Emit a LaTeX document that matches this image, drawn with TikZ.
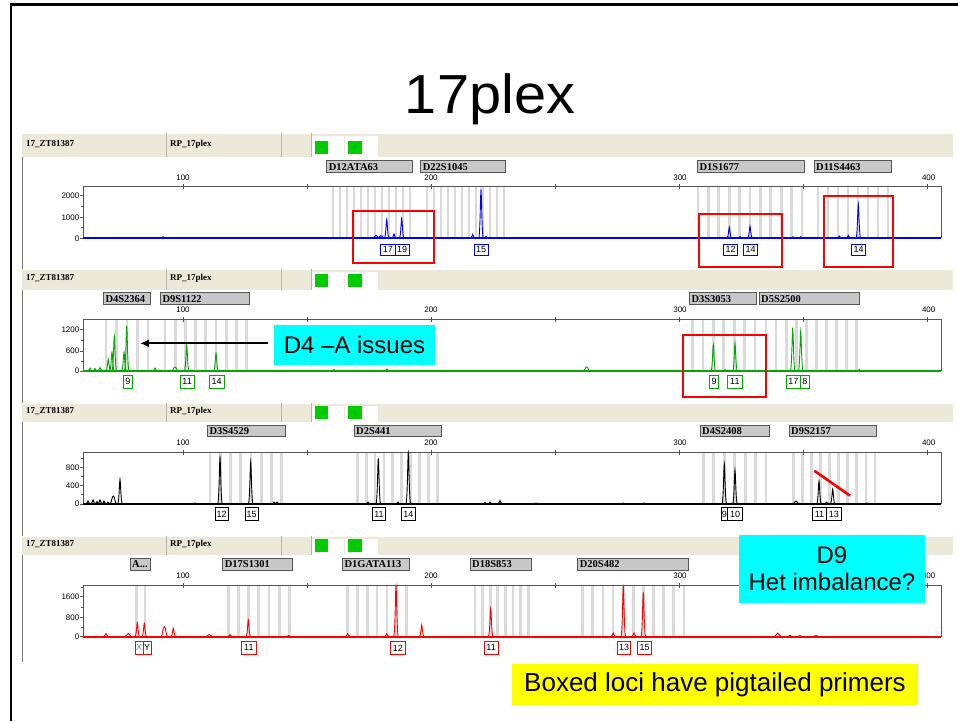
\documentclass[tikz,border=0pt]{standalone}
\usepackage{fontspec}
\setmainfont{Liberation Sans}
\newfontfamily\tms{Liberation Serif}
\usetikzlibrary{arrows.meta,calc}
\definecolor{beige}{HTML}{ECE9D8}
\definecolor{bingray}{HTML}{DADADA}
\definecolor{locgray}{HTML}{C8C8C8}
\definecolor{sqgreen}{HTML}{00CC00}
\definecolor{tblue}{HTML}{0000FF}
\definecolor{tgreen}{HTML}{00A800}
\definecolor{tred}{HTML}{FF0000}
\definecolor{framegray}{HTML}{7A7A7A}
\definecolor{cellgray}{HTML}{B8B4A4}
\definecolor{boxgray}{HTML}{555555}
\definecolor{calloutcyan}{HTML}{00FFFF}
\definecolor{noteyellow}{HTML}{FFFF00}
\definecolor{redmark}{HTML}{FF0000}
\newcommand\fs[1]{\fontsize{#1}{#1}\selectfont}
\tikzset{
  every node/.style={inner sep=0pt},
  hdr/.style={font=\tms\bfseries\fs{9}},
  loctext/.style={font=\tms\bfseries\fs{10.5}},
  locbox/.style={fill=locgray, draw=boxgray, line width=0.9},
  axlab/.style={font=\fs{8}},
  boxline/.style={draw=boxgray, line width=0.9},
  cellline/.style={draw=cellgray, line width=0.8},
  redbox/.style={draw=redmark, line width=2.3},
  callout/.style={fill=calloutcyan, font=\fs{24}, align=center},
  trace/.style={draw=black, line width=0.9},
  allele/.style={draw=black, fill=white, font=\fs{9}, line width=0.8},
}
% bins: x1 x2 n top base
\newcommand\bins[5]{\foreach \i in {1,...,#3}{\pgfmathsetmacro\bx{#1+(\i-1)*(#2-#1)/(#3-1)}\fill[bingray] (\bx-1.4,#4+0.6) rectangle (\bx+1.4,#5);}}
% peak: x base top
\newcommand\pk[3]{\draw[trace] ({#1-2.4},#2) .. controls ({#1-0.9},#2) and ({#1-0.5},#3) .. (#1,#3) .. controls ({#1+0.5},#3) and ({#1+0.9},#2) .. ({#1+2.4},#2);}
\newcommand\bump[3]{\draw[trace] ({#1-3.5},#2) .. controls ({#1-1.6},#2) and ({#1-1.6},#3) .. (#1,#3) .. controls ({#1+1.6},#3) and ({#1+1.6},#2) .. ({#1+3.5},#2);}
% frame: prefix htop hbot axy ptop base
\newcommand\panelframe[6]{%
  \fill[beige] (22,#2) rectangle (953,#3);
  \draw[white, line width=1] (22,#2+0.5) -- (953,#2+0.5);
  \draw[cellline] (166,#2) -- (166,#3) (281,#2) -- (281,#3) (311,#2) -- (311,#3);
  \fill[white] (311.5,#2+3) rectangle (344,#3);
  \fill[white] (345,#2+3) rectangle (377.5,#3);
  \fill[sqgreen] (315,#3-3) rectangle (328.3,#3-16.3);
  \fill[sqgreen] (348.3,#3-3) rectangle (361.6,#3-16.3);
  \node[hdr, anchor=west] (#1-sample) at (26,{(#2+#3)/2-1}) {17\_ZT81387};
  \node[hdr, anchor=west] (#1-kit) at (170,{(#2+#3)/2-1}) {RP\_17plex};
  \node[axlab] (#1-x100) at (183,#4) {100};
  \node[axlab] (#1-x200) at (431,#4) {200};
  \node[axlab] (#1-x300) at (680,#4) {300};
  \node[axlab] (#1-x400) at (928.7,#4) {400};
}
\newcommand\plotbox[2]{%
  \draw[boxline] (83.3,#2) -- (83.3,#1) -- (941,#1) -- (941,#2);
  \foreach \t in {183,307,431,555,679,803,927} \draw[boxline] (\t,#1-2.7) -- (\t,#1+2.7);
}
\newcommand\ytick[3]{\draw[boxline] (80,#2) -- (83.3,#2); \node[axlab, anchor=east] (#1) at (79.5,#2) {#3};}
\newcommand\yminor[1]{\draw[boxline] (80.8,#1) -- (83.3,#1);}
\newcommand\locus[6]{\draw[locbox] (#2,#4) rectangle (#3,#5); \node[loctext, anchor=west] (#1) at ({#2+2},{(#4+#5)/2+0.3}) {#6};}
\newcommand\alab[6]{\node[allele, minimum width={#3-#2}, minimum height={#5-#4}] (#1) at ({(#2+#3)/2},{(#4+#5)/2}) {#6};}
\begin{document}
\begin{tikzpicture}[x=1pt,y=-1pt]
\useasboundingbox (0,0) rectangle (958,721);
\fill[white] (0,0) rectangle (958,721);
% slide frame
\draw[black, line width=2.4] (11.2,721) -- (11.2,4.5) -- (958,4.5);
\node[font=\fs{55}, anchor=base, xscale=1.05] (title) at (490,113) {17plex};
% screenshot left edge
\draw[framegray, line width=1] (22,133) -- (22,662);

%================ PANEL 1 (blue)
\panelframe{p1}{133}{157}{177.7}{186.7}{238.3}
\bins{333}{410}{12}{186.7}{238.3}
\bins{427}{504}{12}{186.7}{238.3}
\bins{698}{802}{11}{186.7}{238.3}
\bins{818}{888}{8}{186.7}{238.3}
\plotbox{186.7}{238.3}
\ytick{p1-y2000}{195.7}{2000}
\ytick{p1-y1000}{217.3}{1000}
\ytick{p1-y0}{238.3}{0}
\yminor{206.5}\yminor{227.8}
\locus{p1-l1}{326.7}{412.3}{160.7}{172}{D12ATA63}
\locus{p1-l2}{420.7}{505.7}{160.7}{172}{D22S1045}
\locus{p1-l3}{697.3}{804.3}{160.7}{172}{D1S1677}
\locus{p1-l4}{814}{891.7}{160.7}{172}{D11S4463}
\begin{scope}[trace/.style={draw=tblue, line width=0.9}, allele/.style={draw=tblue, fill=white, font=\fs{9}, line width=0.8}]
\draw[trace, line width=1.8] (83.3,238.3) -- (941,238.3);
\pk{163}{238.3}{236.8}
\bump{376}{238.3}{235.3}\bump{381}{238.3}{235.5}
\pk{386.7}{238.3}{219.3}
\pk{394}{238.3}{234}
\pk{401.7}{238.3}{218.3}
\pk{472.7}{238.3}{234.5}
\pk{481}{238.3}{190}
\pk{486}{238.3}{236.3}
\pk{729.3}{238.3}{227.3}
\pk{740}{238.3}{236.5}
\pk{750}{238.3}{226}
\pk{793}{238.3}{236.8}\pk{800.7}{238.3}{236.8}
\pk{839.3}{238.3}{236}\pk{848.3}{238.3}{235.5}
\pk{858.3}{238.3}{204}
\alab{p1-a1}{380.7}{395}{244.3}{255}{17}
\alab{p1-a2}{395}{409}{244.3}{255}{19}
\alab{p1-a3}{474}{488}{244.3}{255}{15}
\alab{p1-a4}{723.3}{737.7}{244.3}{255}{12}
\alab{p1-a5}{743.3}{757.7}{244.3}{255}{14}
\alab{p1-a6}{851.7}{865.7}{244.3}{255}{14}
\end{scope}

%================ PANEL 2 (green)
\panelframe{p2}{269}{290}{310}{319.3}{371}
\bins{106}{148}{5}{319.3}{371}
\bins{165}{246.7}{9}{319.3}{371}
\bins{692.7}{755}{7}{319.3}{371}
\bins{766}{856.7}{10}{319.3}{371}
\plotbox{319.3}{371}
\ytick{p2-y1200}{329.3}{1200}
\ytick{p2-y600}{351}{600}
\ytick{p2-y0}{371}{0}
\yminor{340.2}\yminor{361}
\locus{p2-l1}{103.3}{150}{292.7}{304.3}{D4S2364}
\locus{p2-l2}{160.3}{249.3}{292.7}{304.3}{D9S1122}
\locus{p2-l3}{689.3}{756.7}{292.7}{304.3}{D3S3053}
\locus{p2-l4}{759}{859}{292.7}{304.3}{D5S2500}
\begin{scope}[trace/.style={draw=tgreen, line width=0.9}, allele/.style={draw=tgreen, fill=white, font=\fs{9}, line width=0.8}]
\draw[trace, line width=1.6] (83.3,371) -- (941,371);
\pk{90}{371}{368}\pk{95}{371}{368.5}\pk{100}{371}{367.5}
\pk{108.3}{371}{359.3}
\pk{112}{371}{352}\pk{114.3}{371}{336}
\pk{124}{371}{352}\pk{126.7}{371}{326}
\pk{155}{371}{368}
\bump{175}{371}{367}
\pk{186.7}{371}{345}
\pk{216}{371}{353.3}
\pk{334}{371}{369.5}\pk{387}{371}{369}
\bump{586.7}{371}{367}
\pk{713.3}{371}{345}
\pk{725}{371}{369.5}
\pk{735}{371}{343.3}
\pk{792.7}{371}{327.7}
\pk{800.7}{371}{331}
\pk{859.3}{371}{369.5}
\alab{p2-a1}{123.3}{132.7}{375}{388.3}{9}
\alab{p2-a2}{180}{194.3}{375}{388.3}{11}
\alab{p2-a3}{209.3}{224}{375}{388.3}{14}
\alab{p2-a4}{709.3}{718.7}{375}{388.3}{9}
\alab{p2-a5}{727.7}{742}{375}{388.3}{11}
\alab{p2-a6}{786}{800.7}{375}{388.3}{17}
\alab{p2-a7}{800.7}{809}{375}{388.3}{8}
\end{scope}

%================ PANEL 3 (black)
\panelframe{p3}{402.7}{422.3}{443}{452.3}{504}
\bins{210}{281.7}{8}{452.3}{504}
\bins{357.3}{437.3}{10}{452.3}{504}
\bins{703.3}{766}{7}{452.3}{504}
\bins{793.3}{875}{10}{452.3}{504}
\plotbox{452.3}{504}
\ytick{p3-y800}{467.3}{800}
\ytick{p3-y400}{485.7}{400}
\ytick{p3-y0}{504}{0}
\yminor{458}\yminor{476.5}\yminor{494.8}
\locus{p3-l1}{207.3}{285.7}{425.7}{436.7}{D3S4529}
\locus{p3-l2}{354}{441.7}{425.7}{436.7}{D2S441}
\locus{p3-l3}{700}{769.3}{425.7}{436.7}{D4S2408}
\locus{p3-l4}{789}{876}{425.7}{436.7}{D9S2157}
\begin{scope}[trace/.style={draw=black, line width=0.9}, allele/.style={draw=black, fill=white, font=\fs{9}, line width=0.8}]
\draw[trace, line width=1.4] (83.3,504) -- (941,504);
\pk{88}{504}{501}\pk{93}{504}{500}\pk{97}{504}{501.5}\pk{100}{504}{500}
\pk{104}{504}{501}\pk{108}{504}{502}\bump{113.3}{504}{496}
\pk{120}{504}{479.3}
\pk{195}{504}{503}
\pk{220}{504}{457.3}
\pk{250.7}{504}{461.7}
\pk{274}{504}{502}\pk{277}{504}{502}
\pk{368}{504}{502}
\pk{378.3}{504}{458.3}
\pk{398}{504}{502}
\pk{408.3}{504}{452.3}
\pk{485}{504}{502.5}\pk{490}{504}{502}\pk{500}{504}{500.5}
\pk{536}{504}{503}\pk{623.3}{504}{503}\pk{644}{504}{503}
\pk{724.3}{504}{464}
\pk{735}{504}{470}
\bump{796}{504}{501}
\pk{819}{504}{481}
\pk{826.7}{504}{502}
\pk{832.7}{504}{489}
\pk{866.7}{504}{503}
\alab{p3-a1}{215}{228.3}{507.3}{520.7}{12}
\alab{p3-a2}{245}{258.3}{507.3}{520.7}{15}
\alab{p3-a3}{372.3}{385.7}{507.3}{520.7}{11}
\alab{p3-a4}{401.7}{415}{507.3}{520.7}{14}
\alab{p3-a5}{721}{727.7}{507.3}{520.7}{9}
\alab{p3-a6}{727.7}{742.7}{507.3}{520.7}{10}
\alab{p3-a7}{812.3}{826.7}{507.3}{520.7}{11}
\alab{p3-a8}{826.7}{841}{507.3}{520.7}{13}
\end{scope}
\draw[redmark, line width=2.6] (814.3,470.7) -- (850,495.7);

%================ PANEL 4 (red)
\panelframe{p4}{535.7}{555}{575.7}{585.7}{636.7}
\bins{136.7}{145}{2}{585.7}{636.7}
\bins{228.3}{289.3}{7}{585.7}{636.7}
\bins{347.3}{406.7}{7}{585.7}{636.7}
\bins{475}{528.3}{8}{585.7}{636.7}
\bins{582.7}{684}{11}{585.7}{636.7}
\plotbox{585.7}{636.7}
\ytick{p4-y1600}{596.7}{1600}
\ytick{p4-y800}{617.3}{800}
\ytick{p4-y0}{636.7}{0}
\yminor{587}\yminor{607}\yminor{627}
\locus{p4-l1}{130}{150.7}{558.3}{570}{A...}
\locus{p4-l2}{222.7}{292.7}{558.3}{570}{D17S1301}
\locus{p4-l3}{342.3}{409.3}{558.3}{570}{D1GATA113}
\locus{p4-l4}{470}{531.7}{558.3}{570}{D18S853}
\locus{p4-l5}{577.7}{688.3}{558.3}{570}{D20S482}
\begin{scope}[trace/.style={draw=tred, line width=0.9}, allele/.style={draw=tred, fill=white, font=\fs{9}, line width=0.8}]
\draw[trace, line width=1.6] (83.3,636.7) -- (941,636.7);
\pk{106}{636.7}{633.5}
\bump{128.3}{636.7}{633.5}
\pk{137.3}{636.7}{622.7}
\pk{144.3}{636.7}{623.3}
\bump{164.3}{636.7}{626.7}
\pk{173.3}{636.7}{628.3}
\bump{209.3}{636.7}{634.5}
\pk{230}{636.7}{634.5}
\pk{248.3}{636.7}{620}
\pk{288.7}{636.7}{635.5}
\pk{347.7}{636.7}{633.7}
\pk{386.7}{636.7}{633.7}
\pk{396}{636.7}{585.7}
\pk{421.7}{636.7}{625}
\pk{490.7}{636.7}{608.3}
\pk{613.3}{636.7}{633}
\pk{623.3}{636.7}{586.7}
\pk{634}{636.7}{633}
\pk{643.3}{636.7}{592.3}
\bump{777.7}{636.7}{633}
\pk{790}{636.7}{635}\pk{800}{636.7}{635.5}\bump{816}{636.7}{635.5}
\node[allele, minimum width=16, minimum height=12.3] (p4-xy) at (143,647.8) {};
\draw[tred, line width=0.8] (143.3,641.7) -- (143.3,654);
\node[font=\fs{9}, text=gray] (p4-x) at (139.2,647.8) {X};
\node[font=\fs{9}] (p4-y) at (147.2,647.8) {Y};
\alab{p4-a1}{241.7}{256}{641.7}{654}{11}
\alab{p4-a2}{390.7}{405}{641.7}{654}{12}
\alab{p4-a3}{484}{498.3}{641.7}{654}{11}
\alab{p4-a4}{617.3}{630.7}{641.7}{654}{13}
\alab{p4-a5}{637.3}{651.7}{641.7}{654}{15}
\end{scope}

%================ annotations
\draw[redbox] (352.7,211) rectangle (434,263);
\draw[redbox] (699.3,214) rectangle (781.7,267);
\draw[redbox] (824,195.7) rectangle (893.3,267);
\draw[redbox] (683.3,335) rectangle (766,396.7);

\node[callout, minimum width=161, minimum height=39.5] (d4) at (354.5,344.8) {D4 –A issues};
\coordinate (d4tip) at (140,343.3);
\draw[black, line width=2, -{Latex[length=9pt,width=8pt]}, shorten <=6pt] (d4.west |- d4tip) -- (d4tip);

\node[callout, minimum width=186, minimum height=67.7, font=\fontsize{24}{26.5}\selectfont] (d9) at (832,568.8) {D9\\Het imbalance?};

\node[fill=noteyellow, minimum width=406, minimum height=41, font=\fs{26}] (note) at (715,684.5) {Boxed loci have pigtailed primers};
\end{tikzpicture}
\end{document}
